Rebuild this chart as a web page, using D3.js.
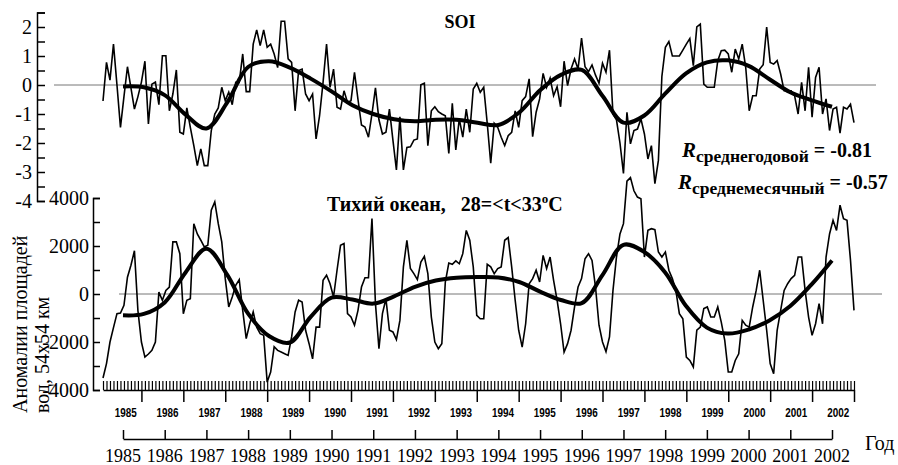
<!DOCTYPE html>
<html>
<head>
<meta charset="utf-8">
<script src="https://cdn.jsdelivr.net/npm/d3@7"></script>
<style>
  body { margin: 0; background: #fff; }
  text { font-family: "Liberation Serif", "Times New Roman", serif; fill: #000; }
  .domain, .tick line { stroke: #000; stroke-width: 1.5px; }
</style>
</head>
<body>
<svg></svg>
<script>
// monthly SOI, Jan 1985 .. Dec 2002 (one row per year)
var soiMonthly = [
  -0.55, 0.78, 0.17, 1.41, 0.0, -1.46, -0.4, 0.63, -0.1, -0.83, -0.4, 0.1,
  0.82, -1.34, 0.03, 0.1, -0.68, 1.01, 1.01, -0.89, -0.31, 0.52, -1.63, -1.69,
  -0.79, -1.46, -2.09, -2.78, -2.2, -2.78, -2.78, -1.57, -1.0, -0.79, -0.08, -0.54,
  -0.25, -0.68, 0.09, 0.09, 1.07, -0.23, -0.23, 1.41, 1.9, 1.36, 1.9, 1.3,
  1.41, 1.07, 0.6, 2.2, 2.2, 0.9, 0.78, -0.89, 0.5, 0.55, -0.31, -0.54,
  -0.31, -1.86, -1.06, 0.09, 1.41, -0.08, 0.55, -0.77, -0.83, -0.2, -0.6, -0.54,
  0.44, -0.5, -1.38, -1.45, -1.8, -1.0, -0.1, -1.2, -1.69, -1.63, -0.83, -1.9,
  -2.93, -1.1, -2.93, -2.15, -2.13, -1.9, -1.86, 0.01, 0.06, -2.09, -0.89, -0.75,
  -0.92, -1.0, -1.06, -2.36, -0.63, -2.24, -1.17, -1.8, -0.83, -1.63, -0.14, 0.06,
  -0.25, -0.08, -1.32, -2.7, -1.32, -1.46, -1.8, -2.09, -1.75, -1.63, -0.89, -1.46,
  -0.54, -0.4, 0.21, -1.78, -0.94, -0.48, 0.4, -0.08, 0.24, -0.37, -0.06, -0.75,
  0.82, -0.02, 0.55, 0.9, 0.55, 1.62, 0.63, 0.46, 0.69, 0.34, 0.06, 0.75,
  0.44, 1.2, -1.0, -1.2, -2.0, -3.05, -0.94, -2.03, -1.57, -1.52, -1.17, -1.69,
  -2.55, -2.09, -3.4, -2.6, 0.3, 1.3, 1.5, 1.0, 1.0, 1.0, 1.2, 1.41,
  1.6, 0.67, 2.0, 2.1, 0.03, -0.08, -0.08, -0.08, 0.84, 1.18, 1.2, 1.07,
  0.44, 1.24, 0.9, 1.41, 0.61, -0.89, -0.37, -0.37, 0.55, 0.7, 2.0, 0.78,
  0.72, 0.84, 0.38, -0.2, -0.2, -0.2, -0.37, -1.0, 0.09, -0.89, 0.61, -1.11,
  0.26, 0.61, -1.0, -0.48, -1.57, -0.83, -0.77, -1.66, -0.77, -0.83, -0.66, -1.3
];

// monthly area anomalies, Pacific, 28=<t<33
var areaMonthly = [
  -3500, -2900, -2000, -1400, -820, -790, -470, 700, 1200, 1800, -700, -2000,
  -2630, -2500, -2350, -2000, 80, -260, 150, 290, 2170, 2170, 1680, -820,
  -260, -200, 2930, 2500, 2240, 1960, 2030, 3490, 3840, 2930, 2170, 640,
  -540, -125, 360, 600, -680, -1860, -1240, -750, -1380, -1650, -1720, -3670,
  -3250, -2200, -2350, -2420, -2490, -2560, -1790, -750, -260, -330, -1510, -2070,
  -2700, -1380, -1380, 570, 780, 430, -125, 990, 2030, 2100, -820, -960,
  -1300, -680, 290, 680, 680, 3140, -400, -2280, -820, -200, -1510, -1580,
  -1900, -1100, 1130, 2240, 1060, 850, 600, 1330, 1570, 850, -960, -2000,
  -2280, -2070, 500, 1290, 1240, 1380, 1260, 1680, 2650, 2240, 1130, -890,
  -1030, -1030, 1240, 1130, 850, 1060, 1130, 2240, 2350, 1130, -260, -1510,
  -2210, -1240, 430, 640, 990, 500, 1610, 1060, 1540, 570, -260, -1240,
  -2420, -2070, -1510, -540, 290, 640, 1470, 1680, 1400, 290, -1300, -2000,
  -2400, -1790, 150, 1540, 2500, 2930, 4700, 4850, 4300, 4040, 3970, 1540,
  2650, 2720, 2680, 1750, 1540, 1750, 990, 640, 150, -820, -1030, -2630,
  -2770, -3040, -1510, -1380, -610, -540, -960, -960, -540, -1170, -1930, -3250,
  -3250, -2770, -2490, -1100, -1300, -1380, -540, 150, 990, -260, -1510, -2900,
  -3320, -1510, -680, 150, 430, 640, 780, 1540, 1540, 150, -960, -1720,
  -1240, -400, -1240, 1540, 2500, 3070, 2650, 3700, 3140, 3070, 1400, -680
];

// smoothed trends, every half year
var trendYears = [1985, 1985.5, 1986, 1986.5, 1987, 1987.5, 1988, 1988.5, 1989, 1989.5,
  1990, 1990.5, 1991, 1991.5, 1992, 1992.5, 1993, 1993.5, 1994, 1994.5,
  1995, 1995.5, 1996, 1996.5, 1997, 1997.5, 1998, 1998.5, 1999, 1999.5,
  2000, 2000.5, 2001, 2001.5, 2002];
var soiTrend = [-0.05, -0.08, -0.35, -1.02, -1.5, -0.6, 0.62, 0.82, 0.6, 0.22,
  -0.22, -0.7, -1.0, -1.18, -1.25, -1.2, -1.2, -1.3, -1.38, -0.95,
  -0.18, 0.35, 0.52, -0.38, -1.3, -1.05, -0.3, 0.4, 0.78, 0.85,
  0.66, 0.2, -0.25, -0.52, -0.75];
var areaTrend = [-890, -830, -350, 900, 1890, 800, -820, -1750, -2020, -950,
  -150, -230, -400, -100, 300, 560, 680, 710, 690, 500,
  100, -250, -380, 800, 2050, 1750, 900, -500, -1400, -1650,
  -1480, -1100, -500, 380, 1400];

var years = [1985, 1986, 1987, 1988, 1989, 1990, 1991, 1992, 1993,
  1994, 1995, 1996, 1997, 1998, 1999, 2000, 2001, 2002];
var soiTicks = [-4, -3.5, -3, -2.5, -2, -1.5, -1, -0.5, 0, 0.5, 1, 1.5, 2, 2.5];
var soiLabels = [-4, -3, -2, -1, 0, 1, 2];
var areaTicks = [-4000, -3000, -2000, -1000, 0, 1000, 2000, 3000, 4000];
var areaLabels = [-4000, -2000, 0, 2000, 4000];

var svg = d3.select('svg').attr('width', 898).attr('height', 465);

var xMonth = d3.scaleLinear().domain([0, 215]).range([103, 854]);
var xYear = d3.scaleLinear().domain([1985, 2002]).range([123, 832]);
var ySoi = d3.scaleLinear().domain([-4, 2.5]).range([201, 12.5]);
var yArea = d3.scaleLinear().domain([-4000, 4000]).range([390, 198]);

// ---- SOI panel
svg.append('g')
  .attr('transform', 'translate(37,0)')
  .call(d3.axisRight(ySoi).tickValues(soiTicks).tickSize(8).tickSizeOuter(8).tickFormat(''));
svg.selectAll('.soi-label').data(soiLabels).enter().append('text')
  .attr('class', 'soi-label')
  .attr('x', 32).attr('y', function(d) { return ySoi(d); })
  .attr('dy', '0.34em')
  .attr('text-anchor', 'end')
  .style('font-size', '20px')
  .text(function(d) { return d; });

svg.append('line')
  .attr('x1', 54).attr('x2', 876)
  .attr('y1', ySoi(0)).attr('y2', ySoi(0))
  .attr('stroke', '#777').attr('stroke-width', 1);

var soiLine = d3.line()
  .x(function(d, i) { return xMonth(i); })
  .y(function(d) { return ySoi(d); });
svg.append('path').datum(soiMonthly)
  .attr('d', soiLine)
  .attr('fill', 'none').attr('stroke', '#000').attr('stroke-width', 1.6);

var soiTrendLine = d3.line()
  .x(function(d, i) { return xYear(trendYears[i]); })
  .y(function(d) { return ySoi(d); })
  .curve(d3.curveCatmullRom);
svg.append('path').datum(soiTrend)
  .attr('d', soiTrendLine)
  .attr('fill', 'none').attr('stroke', '#000').attr('stroke-width', 4);

svg.append('text')
  .attr('x', 460).attr('y', 28)
  .attr('text-anchor', 'middle')
  .style('font-size', '18px').style('font-weight', 'bold')
  .text('SOI');

// ---- area panel
svg.append('g')
  .attr('transform', 'translate(93,0)')
  .call(d3.axisRight(yArea).tickValues(areaTicks).tickSize(7).tickSizeOuter(7).tickFormat(''));
svg.selectAll('.area-label').data(areaLabels).enter().append('text')
  .attr('class', 'area-label')
  .attr('x', 89).attr('y', function(d) { return yArea(d); })
  .attr('dy', '0.34em')
  .attr('text-anchor', 'end')
  .style('font-size', '20px')
  .text(function(d) { return d; });

svg.append('line')
  .attr('x1', 119).attr('x2', 882)
  .attr('y1', yArea(0)).attr('y2', yArea(0))
  .attr('stroke', '#777').attr('stroke-width', 1);

// month hatch axis
svg.append('g')
  .attr('transform', 'translate(0,390)')
  .call(d3.axisTop(xMonth).tickValues(d3.range(0, 216)).tickSize(9).tickSizeOuter(0).tickFormat(''))
  .selectAll('.tick line').style('stroke-width', 1.2);
svg.append('g')
  .attr('transform', 'translate(0,390)')
  .call(d3.axisBottom(xMonth).tickValues(years.map(function(y, i) { return 11 + 12 * i; }))
    .tickSize(12).tickSizeOuter(0).tickFormat(''))
  .select('.domain').remove();
svg.selectAll('.month-year').data(years).enter().append('text')
  .attr('class', 'month-year')
  .attr('x', function(d, i) { return xMonth(12 * i + 6.5); })
  .attr('y', 417)
  .attr('text-anchor', 'middle')
  .style('font-family', '"Liberation Sans", Arial, sans-serif')
  .style('font-size', '13px').style('font-weight', 'bold')
  .attr('textLength', 22).attr('lengthAdjust', 'spacingAndGlyphs')
  .text(function(d) { return d; });

var areaLine = d3.line()
  .x(function(d, i) { return xMonth(i); })
  .y(function(d) { return yArea(d); });
svg.append('path').datum(areaMonthly)
  .attr('d', areaLine)
  .attr('fill', 'none').attr('stroke', '#000').attr('stroke-width', 1.6);

var areaTrendLine = d3.line()
  .x(function(d, i) { return xYear(trendYears[i]); })
  .y(function(d) { return yArea(d); })
  .curve(d3.curveCatmullRom);
svg.append('path').datum(areaTrend)
  .attr('d', areaTrendLine)
  .attr('fill', 'none').attr('stroke', '#000').attr('stroke-width', 4);

var title2 = svg.append('text')
  .attr('x', 327).attr('y', 211)
  .style('font-size', '20px').style('font-weight', 'bold')
  .style('white-space', 'pre');
title2.append('tspan').text('Тихий океан,   28=<t<33');
title2.append('tspan').attr('dy', -8).style('font-size', '13px').text('o');
title2.append('tspan').attr('dy', 8).text('C');

// y label
var ylab = svg.append('g').attr('transform', 'translate(0,413) rotate(-90)');
ylab.append('text').attr('x', 0).attr('y', 27).style('font-size', '20px').text('Аномалии площадей');
ylab.append('text').attr('x', 0).attr('y', 49).style('font-size', '20px').text('вод, 54х54 км');

// correlations
function corrText(x, y, sub, val) {
  var t = svg.append('text').attr('x', x).attr('y', y).style('font-weight', 'bold');
  t.append('tspan').style('font-size', '21px').style('font-style', 'italic').text('R');
  t.append('tspan').attr('dy', 5).style('font-size', '17.5px').text(sub);
  t.append('tspan').attr('dy', -5).style('font-size', '20px').text(' = ' + val);
}
corrText(682, 157, 'среднегодовой', '-0.81');
corrText(678, 189, 'среднемесячный', '-0.57');

// ---- bottom year axis
svg.append('g')
  .attr('transform', 'translate(0,439)')
  .call(d3.axisTop(xYear).tickValues(years).tickSize(9).tickSizeOuter(0).tickFormat(''));
svg.selectAll('.year-label').data(years).enter().append('text')
  .attr('class', 'year-label')
  .attr('x', function(d) { return xYear(d); })
  .attr('y', 462)
  .attr('text-anchor', 'middle')
  .style('font-size', '18px')
  .text(function(d) { return d; });

svg.append('text')
  .attr('x', 865).attr('y', 450)
  .style('font-size', '20px')
  .text('Год');
</script>
</body>
</html>
